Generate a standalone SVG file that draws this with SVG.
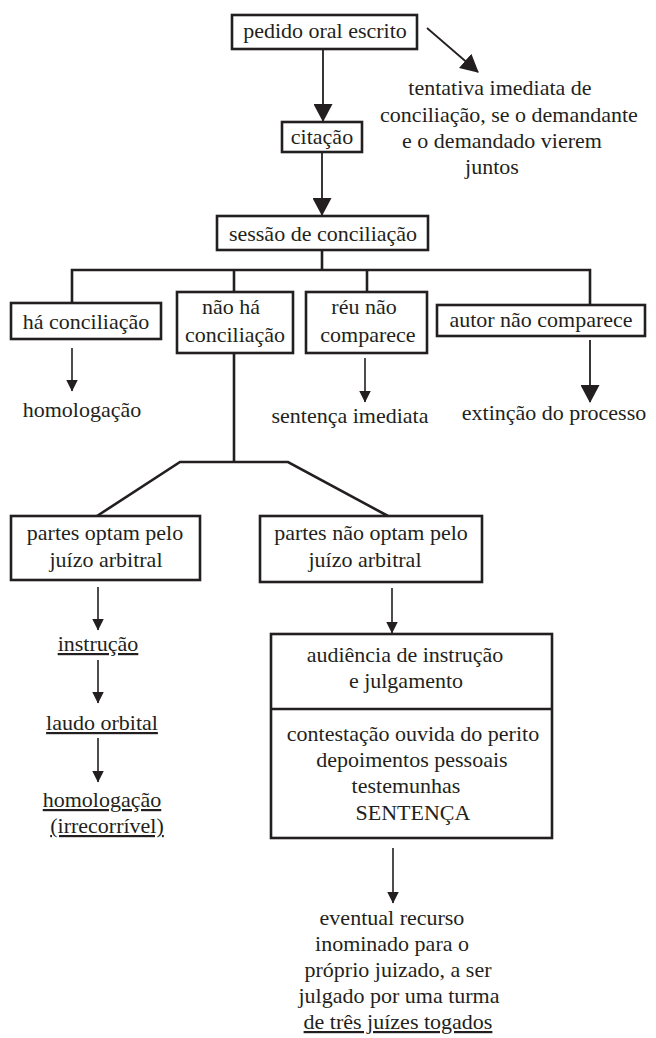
<svg xmlns="http://www.w3.org/2000/svg" width="656" height="1038" viewBox="0 0 656 1038">
  <defs>
    <style>
      .box { fill: #ffffff; stroke: #231f20; stroke-width: 2.6; }
      .wire { fill: none; stroke: #231f20; stroke-width: 2.6; }
      .arrow { fill: none; stroke: #231f20; stroke-width: 1.6; }
      .arrow-big { fill: none; stroke: #231f20; stroke-width: 1.8; }
      text { font-family: "Liberation Serif", "Times New Roman", "DejaVu Serif", serif; font-size: 22px; fill: #231f20; text-anchor: middle; }
      .u { text-decoration: underline; }
    </style>
    <marker id="head-big" markerUnits="userSpaceOnUse" viewBox="0 0 18 19" markerWidth="18" markerHeight="19" refX="17" refY="9.5" orient="auto">
      <path d="M0,0 L18,9.5 L0,19 Z" fill="#231f20"/>
    </marker>
    <marker id="head-small" markerUnits="userSpaceOnUse" viewBox="0 0 12 12" markerWidth="12" markerHeight="12" refX="11.5" refY="6" orient="auto">
      <path d="M0,0 L12,6 L0,12 Z" fill="#231f20"/>
    </marker>
  </defs>
  <rect width="656" height="1038" fill="#ffffff"/>

  <!-- connectors -->
  <g id="connectors">
    <line class="arrow-big" x1="323" y1="50" x2="323" y2="121" marker-end="url(#head-big)"/>
    <line class="arrow-big" x1="427" y1="28" x2="478" y2="72" marker-end="url(#head-big)"/>
    <line class="arrow-big" x1="322" y1="153" x2="322" y2="215" marker-end="url(#head-big)"/>
    <path class="wire" d="M322,250 V270"/>
    <path class="wire" d="M72,303 V270 H590 V305"/>
    <path class="wire" d="M234,270 V292"/>
    <path class="wire" d="M367,270 V292"/>
    <line class="arrow" x1="72" y1="348" x2="72" y2="391" marker-end="url(#head-small)"/>
    <line class="arrow" x1="365" y1="358" x2="365" y2="402" marker-end="url(#head-small)"/>
    <line class="arrow-big" x1="590" y1="340" x2="590" y2="402" marker-end="url(#head-big)"/>
    <path class="wire" d="M234,353 V462"/>
    <path class="wire" d="M97,516 L180,462 H288 L388,516"/>
    <line class="arrow" x1="98" y1="587" x2="98" y2="630" marker-end="url(#head-small)"/>
    <line class="arrow" x1="98" y1="660" x2="98" y2="703" marker-end="url(#head-small)"/>
    <line class="arrow" x1="98" y1="738" x2="98" y2="782" marker-end="url(#head-small)"/>
    <line class="arrow" x1="392" y1="588" x2="392" y2="633" marker-end="url(#head-small)"/>
    <line class="arrow" x1="393" y1="848" x2="393" y2="903" marker-end="url(#head-small)"/>
  </g>

  <g id="pedido">
    <rect class="box" x="232" y="15" width="185" height="34"/>
    <text x="325" y="38">pedido oral escrito</text>
  </g>

  <g id="tentativa">
    <text x="500" y="95">tentativa imediata de</text>
    <text x="509" y="122">conciliação, se o demandante</text>
    <text x="502" y="148">e o demandado vierem</text>
    <text x="492" y="174">juntos</text>
  </g>

  <g id="citacao">
    <rect class="box" x="282" y="122" width="80" height="30"/>
    <text x="322" y="144">citação</text>
  </g>

  <g id="sessao">
    <rect class="box" x="217" y="216" width="211" height="34"/>
    <text x="323" y="241">sessão de conciliação</text>
  </g>

  <g id="ha-conciliacao">
    <rect class="box" x="11" y="303" width="150" height="36"/>
    <text x="86" y="329">há conciliação</text>
  </g>

  <g id="nao-ha-conciliacao">
    <rect class="box" x="177" y="292" width="116" height="61"/>
    <text x="231" y="314">não há</text>
    <text x="235" y="342">conciliação</text>
  </g>

  <g id="reu-nao-comparece">
    <rect class="box" x="306" y="292" width="121" height="61"/>
    <text x="364" y="314">réu não</text>
    <text x="368" y="342">comparece</text>
  </g>

  <g id="autor-nao-comparece">
    <rect class="box" x="437" y="305" width="208" height="31"/>
    <text x="541" y="327">autor não comparece</text>
  </g>

  <g id="homologacao">
    <text x="82" y="417">homologação</text>
  </g>

  <g id="sentenca-imediata">
    <text x="350" y="423">sentença imediata</text>
  </g>

  <g id="extincao">
    <text x="554" y="420">extinção do processo</text>
  </g>

  <g id="partes-optam">
    <rect class="box" x="11" y="516" width="189" height="64"/>
    <text x="105" y="540">partes optam pelo</text>
    <text x="106" y="567">juízo arbitral</text>
  </g>

  <g id="partes-nao-optam">
    <rect class="box" x="260" y="516" width="222" height="66"/>
    <text x="371" y="540">partes não optam pelo</text>
    <text x="365" y="567">juízo arbitral</text>
  </g>

  <g id="instrucao">
    <text class="u" x="98" y="651">instrução</text>
  </g>

  <g id="laudo">
    <text class="u" x="102" y="730">laudo orbital</text>
  </g>

  <g id="homologacao-final">
    <text class="u" x="102" y="807">homologação</text>
    <text class="u" x="107" y="833">(irrecorrível)</text>
  </g>

  <g id="audiencia">
    <rect class="box" x="271" y="634" width="281" height="204"/>
    <line class="wire" x1="271" y1="709" x2="552" y2="709"/>
    <text x="405" y="662">audiência de instrução</text>
    <text x="406" y="688">e julgamento</text>
    <text x="413" y="741">contestação ouvida do perito</text>
    <text x="412" y="767">depoimentos pessoais</text>
    <text x="406" y="793">testemunhas</text>
    <text x="413" y="820">SENTENÇA</text>
  </g>

  <g id="recurso">
    <text x="392" y="925">eventual recurso</text>
    <text x="392" y="951">inominado para o</text>
    <text x="398" y="977">próprio juizado, a ser</text>
    <text x="399" y="1003">julgado por uma turma</text>
    <text class="u" x="398" y="1029">de três juízes togados</text>
  </g>
</svg>
